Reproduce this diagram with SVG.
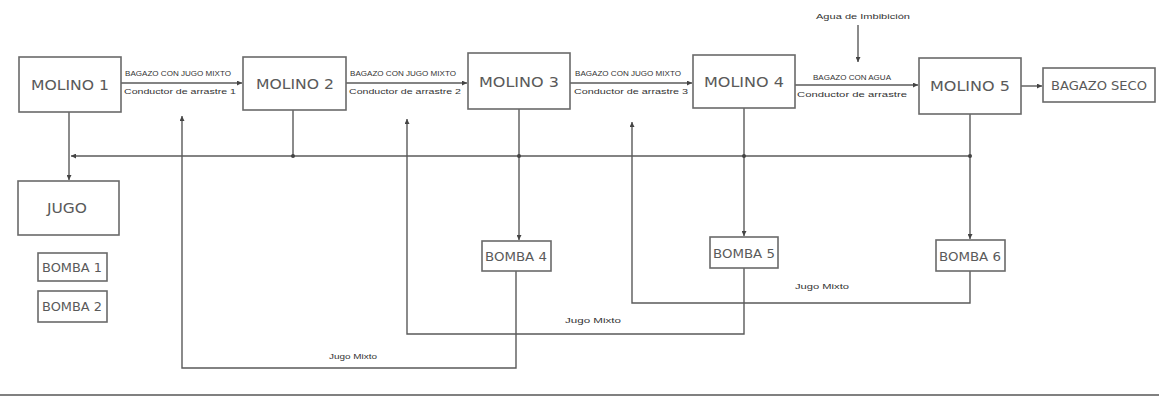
<svg xmlns="http://www.w3.org/2000/svg" width="1159" height="397" viewBox="0 0 1159 397">
<style>
.box{fill:#fff;stroke:#6a6a6a;stroke-width:1.6}
.big{font-family:"DejaVu Sans","Liberation Sans",sans-serif;font-size:14px;fill:#5a5a5a;text-anchor:middle}
.med{font-family:"DejaVu Sans","Liberation Sans",sans-serif;font-size:12px;fill:#5a5a5a;text-anchor:middle}
.sm{font-family:"Liberation Sans","DejaVu Sans",sans-serif;font-size:7px;fill:#333;text-anchor:middle}
.ln{fill:none;stroke:#5a5a5a;stroke-width:1.4}
.dot{fill:#444}
</style>
<defs>
<marker id="ah" viewBox="0 0 8 8" refX="8" refY="4" markerWidth="5" markerHeight="5" orient="auto" markerUnits="userSpaceOnUse">
<path d="M0,0 L8,4 L0,8 z" fill="#444"/>
</marker>
</defs>
<g id="connectors">
<line class="ln" x1="121" y1="83" x2="242" y2="83" marker-end="url(#ah)"/>
<line class="ln" x1="346" y1="83" x2="467" y2="83" marker-end="url(#ah)"/>
<line class="ln" x1="570" y1="83" x2="692" y2="83" marker-end="url(#ah)"/>
<line class="ln" x1="795" y1="85" x2="918" y2="85" marker-end="url(#ah)"/>
<line class="ln" x1="1021" y1="86" x2="1042" y2="86" marker-end="url(#ah)"/>
<line class="ln" x1="858" y1="25" x2="858" y2="62" marker-end="url(#ah)"/>
<line class="ln" x1="69" y1="112" x2="69" y2="180" marker-end="url(#ah)"/>
<line class="ln" x1="970" y1="156" x2="71" y2="156" marker-end="url(#ah)"/>
<line class="ln" x1="293" y1="110" x2="293" y2="156"/>
<circle class="dot" cx="293" cy="156" r="2"/>
<line class="ln" x1="519" y1="109" x2="519" y2="240" marker-end="url(#ah)"/>
<circle class="dot" cx="519" cy="156" r="2"/>
<line class="ln" x1="744" y1="108" x2="744" y2="236" marker-end="url(#ah)"/>
<circle class="dot" cx="744" cy="156" r="2"/>
<line class="ln" x1="970" y1="114" x2="970" y2="239" marker-end="url(#ah)"/>
<circle class="dot" cx="970" cy="156" r="2"/>
<polyline class="ln" points="516,271 516,368 182,368 182,116" marker-end="url(#ah)"/>
<polyline class="ln" points="744,268 744,334 407,334 407,119" marker-end="url(#ah)"/>
<polyline class="ln" points="970,271 970,303 632,303 632,122" marker-end="url(#ah)"/>
<text class="sm" x="178" y="76" textLength="106" lengthAdjust="spacingAndGlyphs">BAGAZO CON JUGO MIXTO</text>
<text class="sm" x="180" y="94" textLength="112" lengthAdjust="spacingAndGlyphs">Conductor de arrastre 1</text>
<text class="sm" x="403" y="76" textLength="106" lengthAdjust="spacingAndGlyphs">BAGAZO CON JUGO MIXTO</text>
<text class="sm" x="405" y="94" textLength="112" lengthAdjust="spacingAndGlyphs">Conductor de arrastre 2</text>
<text class="sm" x="628" y="76" textLength="106" lengthAdjust="spacingAndGlyphs">BAGAZO CON JUGO MIXTO</text>
<text class="sm" x="631" y="94" textLength="114" lengthAdjust="spacingAndGlyphs">Conductor de arrastre 3</text>
<text class="sm" x="852" y="80" textLength="78" lengthAdjust="spacingAndGlyphs">BAGAZO CON AGUA</text>
<text class="sm" x="852" y="97" textLength="110" lengthAdjust="spacingAndGlyphs">Conductor de arrastre</text>
<text class="sm" x="863" y="19" textLength="94" lengthAdjust="spacingAndGlyphs">Agua de Imbibición</text>
<text class="sm" x="353" y="359" textLength="48" lengthAdjust="spacingAndGlyphs">Jugo Mixto</text>
<text class="sm" x="593" y="323" textLength="56" lengthAdjust="spacingAndGlyphs">Jugo Mixto</text>
<text class="sm" x="822" y="289" textLength="54" lengthAdjust="spacingAndGlyphs">Jugo Mixto</text>
</g>
<g id="molino1"><rect class="box" x="19" y="57" width="102" height="55"/><text class="big" x="70" y="90" textLength="78" lengthAdjust="spacingAndGlyphs">MOLINO 1</text></g>
<g id="molino2"><rect class="box" x="243" y="57" width="103" height="53"/><text class="big" x="295" y="89" textLength="78" lengthAdjust="spacingAndGlyphs">MOLINO 2</text></g>
<g id="molino3"><rect class="box" x="468" y="53" width="102" height="56"/><text class="big" x="519" y="87" textLength="80" lengthAdjust="spacingAndGlyphs">MOLINO 3</text></g>
<g id="molino4"><rect class="box" x="693" y="55" width="102" height="53"/><text class="big" x="744" y="87" textLength="80" lengthAdjust="spacingAndGlyphs">MOLINO 4</text></g>
<g id="molino5"><rect class="box" x="919" y="58" width="102" height="56"/><text class="big" x="970" y="91" textLength="80" lengthAdjust="spacingAndGlyphs">MOLINO 5</text></g>
<g id="bagazo-seco"><rect class="box" x="1043" y="68" width="112" height="34"/><text class="med" x="1099" y="90" textLength="96" lengthAdjust="spacingAndGlyphs">BAGAZO SECO</text></g>
<g id="jugo"><rect class="box" x="18" y="181" width="101" height="54"/><text class="big" x="67" y="213" textLength="40" lengthAdjust="spacingAndGlyphs">JUGO</text></g>
<g id="bomba1"><rect class="box" x="38" y="253" width="69" height="28"/><text class="med" x="72" y="272" textLength="60" lengthAdjust="spacingAndGlyphs">BOMBA 1</text></g>
<g id="bomba2"><rect class="box" x="38" y="291" width="69" height="31"/><text class="med" x="72" y="311" textLength="60" lengthAdjust="spacingAndGlyphs">BOMBA 2</text></g>
<g id="bomba4"><rect class="box" x="482" y="241" width="69" height="30"/><text class="med" x="516" y="261" textLength="62" lengthAdjust="spacingAndGlyphs">BOMBA 4</text></g>
<g id="bomba5"><rect class="box" x="710" y="237" width="68" height="31"/><text class="med" x="744" y="258" textLength="62" lengthAdjust="spacingAndGlyphs">BOMBA 5</text></g>
<g id="bomba6"><rect class="box" x="936" y="240" width="69" height="31"/><text class="med" x="970" y="261" textLength="62" lengthAdjust="spacingAndGlyphs">BOMBA 6</text></g>
<line x1="0" y1="395" x2="1159" y2="395" stroke="#808080" stroke-width="2"/>
</svg>
